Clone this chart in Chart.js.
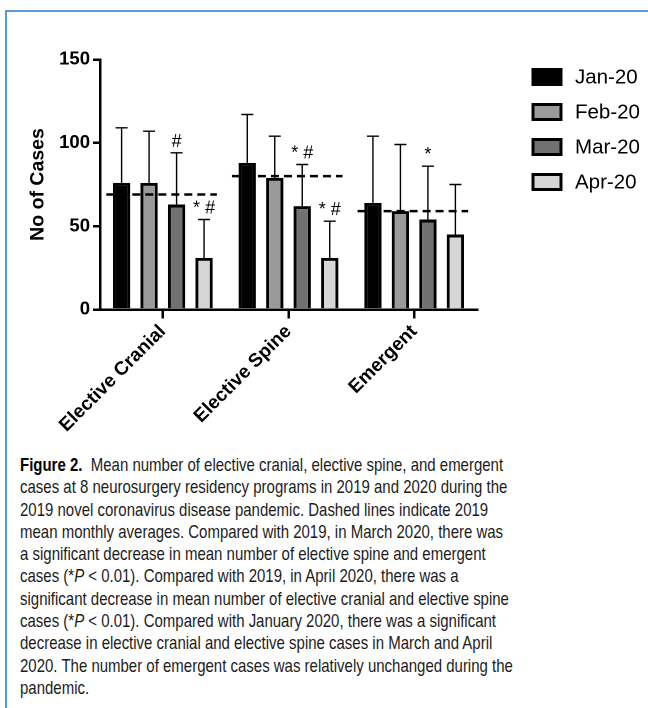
<!DOCTYPE html>
<html>
<head>
<meta charset="utf-8">
<script src="https://cdn.jsdelivr.net/npm/chart.js@4/dist/chart.umd.min.js"></script>
<style>
  html, body { margin: 0; padding: 0; background: #fff; }
  body { width: 648px; height: 708px; position: relative; overflow: hidden; }
  #frame { position: absolute; left: 5px; top: 10px; width: 700px; height: 760px;
           border-top: 2.5px solid #5b9bd5; border-left: 2.5px solid #5b9bd5; }
  #wrap { position: absolute; left: 0; top: 0; width: 648px; height: 450px; }
  #caption { position: absolute; left: 20px; top: 454px; width: 620px;
             transform: scaleX(0.81); transform-origin: 0 0;
             font-family: "Liberation Sans", Arial, sans-serif;
             font-size: 18.5px; line-height: 22.3px; color: #1c1c1c; }
  #caption div { white-space: nowrap; }
  #caption b { font-weight: bold; color: #000; }
</style>
</head>
<body>
<div id="frame"></div>
<div id="wrap"><canvas id="c" width="648" height="450"></canvas></div>
<div id="caption">
  <div><b>Figure 2.</b>&nbsp; Mean number of elective cranial, elective spine, and emergent</div>
  <div>cases at 8 neurosurgery residency programs in 2019 and 2020 during the</div>
  <div>2019 novel coronavirus disease pandemic. Dashed lines indicate 2019</div>
  <div>mean monthly averages. Compared with 2019, in March 2020, there was</div>
  <div>a significant decrease in mean number of elective spine and emergent</div>
  <div>cases (*<i>P</i> &lt; 0.01). Compared with 2019, in April 2020, there was a</div>
  <div>significant decrease in mean number of elective cranial and elective spine</div>
  <div>cases (*<i>P</i> &lt; 0.01). Compared with January 2020, there was a significant</div>
  <div>decrease in elective cranial and elective spine cases in March and April</div>
  <div>2020. The number of emergent cases was relatively unchanged during the</div>
  <div>pandemic.</div>
</div>
<script>
// ---- data ----
const categories = ['Elective Cranial', 'Elective Spine', 'Emergent'];
const seriesNames = ['Jan-20', 'Feb-20', 'Mar-20', 'Apr-20'];
const jan20 = [76, 88, 64];
const feb20 = [76, 79, 59];
const mar20 = [63, 62, 54];
const apr20 = [31, 31, 45];
// upper end of error whiskers (mean + SD)
const jan20Upper = [109, 117, 104];
const feb20Upper = [107, 104, 99];
const mar20Upper = [94, 87, 86];
const apr20Upper = [54, 53, 75];
// significance marks
const jan20Marks = ['', '', ''];
const feb20Marks = ['', '', ''];
const mar20Marks = ['#', '* #', '*'];
const apr20Marks = ['* #', '* #', ''];
// 2019 mean monthly averages (dashed lines)
const mean2019 = [69, 80, 59];
const yTicks = [0, 50, 100, 150];

const FONT = '"Liberation Sans", Arial, sans-serif';

const errorBarPlugin = {
  id: 'errorBars',
  afterDatasetsDraw(chart) {
    const ctx = chart.ctx, ys = chart.scales.y;
    chart.data.datasets.forEach((ds, di) => {
      const meta = chart.getDatasetMeta(di);
      meta.data.forEach((bar, i) => {
        const top = ys.getPixelForValue(ds.upper[i]);
        ctx.save();
        ctx.strokeStyle = '#000';
        ctx.lineWidth = 1.4;
        ctx.beginPath();
        ctx.moveTo(bar.x, bar.y);
        ctx.lineTo(bar.x, top);
        ctx.moveTo(bar.x - 6, top);
        ctx.lineTo(bar.x + 6, top);
        ctx.stroke();
        const m = ds.marks[i];
        if (m) {
          ctx.fillStyle = '#000';
          ctx.font = '18px ' + FONT;
          ctx.textAlign = 'center';
          ctx.textBaseline = 'bottom';
          ctx.fillText(m, bar.x, top - 2);
        }
        ctx.restore();
      });
    });
  }
};

const meanLinePlugin = {
  id: 'meanLines',
  afterDatasetsDraw(chart) {
    const ctx = chart.ctx, xs = chart.scales.x, ys = chart.scales.y;
    const catW = xs.width / categories.length;
    mean2019.forEach((v, i) => {
      const cx = xs.getPixelForValue(i);
      const py = ys.getPixelForValue(v);
      ctx.save();
      ctx.strokeStyle = '#000';
      ctx.lineWidth = 2.5;
      ctx.setLineDash([8, 5]);
      ctx.beginPath();
      ctx.moveTo(cx - catW * 0.45, py);
      ctx.lineTo(cx + catW * 0.43, py);
      ctx.stroke();
      ctx.restore();
    });
  }
};

const legendPlugin = {
  id: 'customLegend',
  afterDraw(chart) {
    const ctx = chart.ctx;
    chart.data.datasets.forEach((ds, i) => {
      const x = 531.5, y = 68 + 35 * i, w = 31, h = 18;
      ctx.save();
      ctx.fillStyle = ds.backgroundColor;
      ctx.fillRect(x, y, w, h);
      ctx.strokeStyle = '#000';
      ctx.lineWidth = 3;
      ctx.strokeRect(x + 1.5, y + 1.5, w - 3, h - 3);
      ctx.fillStyle = '#000';
      ctx.font = '20.5px ' + FONT;
      ctx.textAlign = 'left';
      ctx.textBaseline = 'middle';
      ctx.fillText(ds.label, 575, y + h / 2 + 1);
      ctx.restore();
    });
  }
};

const fills = ['#000000', '#9a9a9a', '#717171', '#d6d6d6'];
const values = [jan20, feb20, mar20, apr20];
const uppers = [jan20Upper, feb20Upper, mar20Upper, apr20Upper];
const marks = [jan20Marks, feb20Marks, mar20Marks, apr20Marks];

new Chart(document.getElementById('c'), {
  type: 'bar',
  data: {
    labels: categories,
    datasets: seriesNames.map((name, i) => ({
      label: name,
      data: values[i],
      upper: uppers[i],
      marks: marks[i],
      backgroundColor: fills[i],
      borderColor: '#000',
      borderWidth: 3,
      borderSkipped: 'bottom',
      categoryPercentage: 0.875,
      barPercentage: 0.63
    }))
  },
  options: {
    responsive: false,
    animation: false,
    devicePixelRatio: 2,
    layout: { padding: { top: 59.5, right: 171, left: 0, bottom: 0 } },
    plugins: { legend: { display: false }, tooltip: { enabled: false } },
    scales: {
      x: {
        afterFit: (s) => { s.height = 140.5; },
        border: { color: '#000', width: 2.5 },
        grid: { offset: false, drawOnChartArea: false, drawTicks: true, tickLength: 9, color: '#000', lineWidth: 2.5 },
        ticks: { color: '#000', font: { family: FONT, size: 19, weight: 'bold' },
                 maxRotation: 45, minRotation: 45, autoSkip: false, padding: 2 }
      },
      y: {
        min: 0, max: 150,
        afterFit: (s) => { s.width = 100; },
        afterBuildTicks: (s) => { s.ticks = yTicks.map(v => ({ value: v })); },
        border: { color: '#000', width: 2.5 },
        grid: { drawOnChartArea: false, drawTicks: true, tickLength: 7, color: '#000', lineWidth: 2.5 },
        ticks: { color: '#000', font: { family: FONT, size: 18.5, weight: 'bold' }, padding: 3 },
        title: { display: true, text: 'No of Cases', color: '#000',
                 font: { family: FONT, size: 19.5, weight: 'bold' }, padding: { top: 26.5, bottom: 0 } }
      }
    }
  },
  plugins: [meanLinePlugin, errorBarPlugin, legendPlugin]
});
</script>
</body>
</html>
